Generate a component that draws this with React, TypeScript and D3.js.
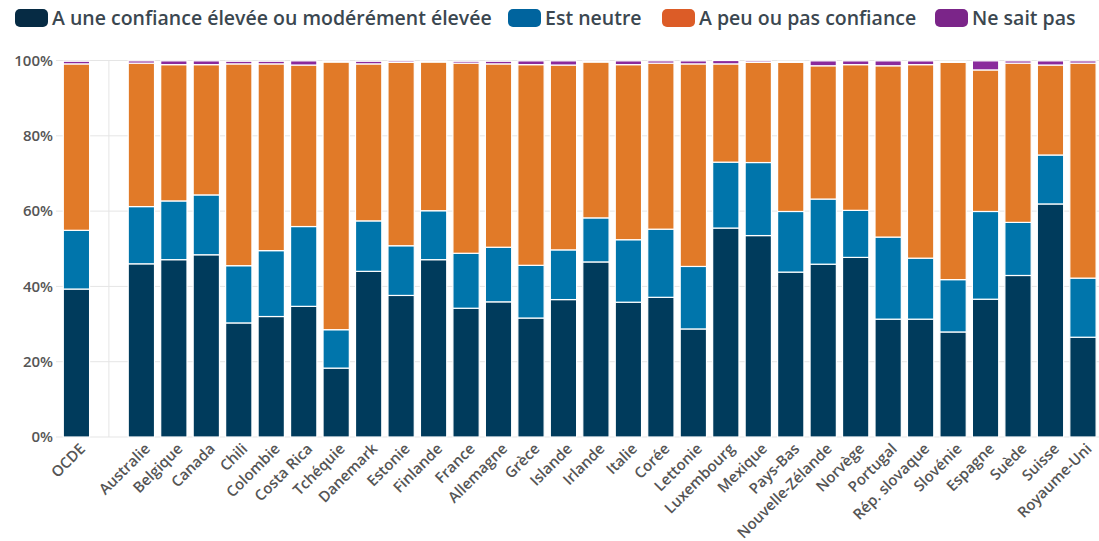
import React from "react";
import * as d3 from "d3";

const categories = [
  "OCDE", "Australie", "Belgique", "Canada", "Chili", "Colombie", "Costa Rica", "Tchéquie",
  "Danemark", "Estonie", "Finlande", "France", "Allemagne", "Grèce", "Islande", "Irlande",
  "Italie", "Corée", "Lettonie", "Luxembourg", "Mexique", "Pays-Bas", "Nouvelle-Zélande",
  "Norvège", "Portugal", "Rép. slovaque", "Slovénie", "Espagne", "Suède", "Suisse", "Royaume-Uni",
];

const high = [
  39.3, 46.0, 47.1, 48.4, 30.3, 32.0, 34.7, 18.3, 44.0, 37.6, 47.1, 34.2, 35.9, 31.6, 36.5, 46.5,
  35.8, 37.1, 28.7, 55.5, 53.5, 43.8, 45.9, 47.7, 31.3, 31.3, 27.9, 36.6, 42.9, 61.9, 26.5,
];
const neutral = [
  15.6, 15.2, 15.6, 15.9, 15.2, 17.5, 21.2, 10.2, 13.4, 13.2, 13.0, 14.6, 14.5, 14.0, 13.2, 11.7,
  16.6, 18.1, 16.6, 17.5, 19.4, 16.1, 17.3, 12.5, 21.8, 16.2, 13.9, 23.3, 14.1, 13.0, 15.7,
];
const low = [
  44.2, 38.1, 36.2, 34.6, 53.6, 49.6, 42.9, 71.1, 41.7, 48.7, 39.5, 50.5, 48.7, 53.3, 49.1, 41.4,
  46.5, 44.1, 53.8, 26.1, 26.6, 39.6, 35.4, 38.7, 45.5, 51.4, 57.7, 37.6, 42.3, 23.9, 57.1,
];
const dontKnow = [
  0.7, 0.6, 1.0, 1.0, 0.7, 0.7, 1.1, 0.3, 0.7, 0.4, 0.3, 0.5, 0.7, 1.0, 1.1, 0.3,
  1.0, 0.6, 0.8, 0.9, 0.4, 0.3, 1.3, 1.0, 1.3, 1.0, 0.3, 2.4, 0.6, 1.1, 0.6,
];

const seriesNames = [
  "A une confiance élevée ou modérément élevée",
  "Est neutre",
  "A peu ou pas confiance",
  "Ne sait pas",
];
const yTicks = [0, 20, 40, 60, 80, 100];

const barColors = ["#003b5c", "#0075ab", "#e17a28", "#8a2a9c"];
const legendColors = ["#062b44", "#00649e", "#dc5c27", "#7b2589"];
const legendX = [15, 508, 662, 935];

const GAP = "__gap";

export default function App() {
  const width = 1099;
  const height = 541;
  const font = "'Open Sans', sans-serif";

  // empty slot between OCDE and the countries
  const domain = [categories[0], GAP, ...categories.slice(1)];
  const x = d3
    .scaleBand<string>()
    .domain(domain)
    .range([60.2, 1099.2])
    .paddingInner(0.19)
    .paddingOuter(0.095);

  const y = d3.scaleLinear().domain([0, 100]).range([437, 60.5]);

  const rows = categories.map((c, i) => ({
    c,
    high: high[i],
    neutral: neutral[i],
    low: low[i],
    dontKnow: dontKnow[i],
  }));
  const stack = d3
    .stack<any>()
    .keys(["high", "neutral", "low", "dontKnow"])(rows);

  const gapX = (x(GAP) ?? 0) + x.bandwidth() / 2;

  return (
    <svg
      width={width}
      height={height}
      style={{ position: "absolute", left: 0, top: 0, background: "#fff", fontFamily: font }}
    >
      {/* grid */}
      {yTicks.map((t) => (
        <line key={t} x1={56} x2={1099} y1={y(t)} y2={y(t)} stroke="#e5e5e5" strokeWidth={1} />
      ))}
      <line x1={gapX} x2={gapX} y1={y(0)} y2={y(100)} stroke="#e5e5e5" strokeWidth={1} />

      {yTicks.map((t) => (
        <text
          key={t}
          x={53}
          y={y(t)}
          dy="0.35em"
          textAnchor="end"
          fontSize={15}
          fontWeight={600}
          fill="#555"
        >
          {t}%
        </text>
      ))}

      {/* bars */}
      {stack.map((s, si) => (
        <g key={si} fill={barColors[si]}>
          {s.map((d, i) => (
            <rect
              key={i}
              x={x(categories[i])}
              y={y(d[1])}
              width={x.bandwidth()}
              height={Math.max(0, y(d[0]) - y(d[1]))}
              stroke="#fff"
              strokeWidth={1.2}
            />
          ))}
        </g>
      ))}

      {/* x labels */}
      {categories.map((c) => {
        const cx = (x(c) ?? 0) + x.bandwidth() / 2;
        return (
          <text
            key={c}
            transform={`translate(${cx + 6},${y(0) + 9}) rotate(-45)`}
            textAnchor="end"
            dy="0.35em"
            fontSize={15}
            fontWeight={600}
            fill="#555"
          >
            {c}
          </text>
        );
      })}

      {/* legend */}
      {seriesNames.map((n, i) => (
        <g key={n} transform={`translate(${legendX[i]},9)`}>
          <rect width={33} height={18} rx={5} fill={legendColors[i]} />
          <text x={37} y={9} dy="0.36em" fontSize={19.5} fontWeight={600} fill="#3b4750">
            {n}
          </text>
        </g>
      ))}
    </svg>
  );
}
